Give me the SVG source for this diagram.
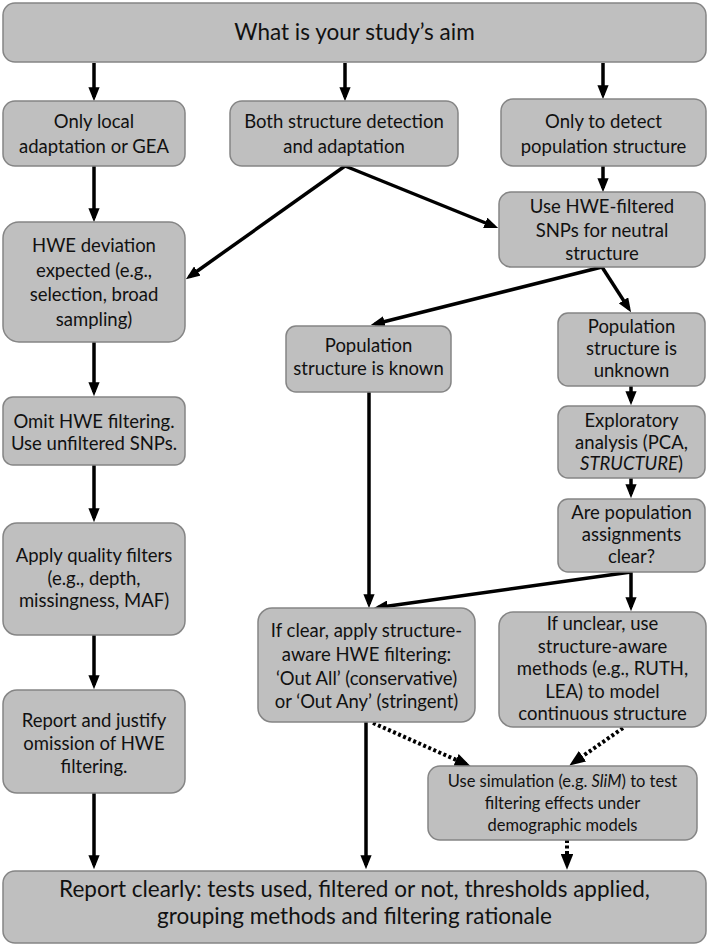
<svg xmlns="http://www.w3.org/2000/svg" width="709" height="947" viewBox="0 0 709 947">
<defs>
<style>
.box{fill:#bfbfbf;stroke:#858585;stroke-width:1.5}
.t{font-family:Lato,"Liberation Sans",sans-serif;font-size:18.5px;fill:#111;text-anchor:middle}
.big{font-size:22.5px}
.sm{font-size:16.5px}
.c{stroke:#000;stroke-width:3.5;fill:none}
.d{stroke:#000;stroke-width:4;fill:none;stroke-dasharray:3 2.5}
</style>
<marker id="ah" markerWidth="4" markerHeight="3.2" refX="2.8" refY="1.6" orient="auto" markerUnits="strokeWidth" viewBox="0 0 4 3.2">
<path d="M0,0 L4,1.6 L0,3.2 z" fill="#000"/>
</marker>
</defs>
<rect width="709" height="947" fill="#fff"/>

<g id="connectors">
<path class="c" d="M94,63 V97" marker-end="url(#ah)"/>
<path class="c" d="M345,63 V97" marker-end="url(#ah)"/>
<path class="c" d="M603,63 V95" marker-end="url(#ah)"/>
<path class="c" d="M603,166 V188" marker-end="url(#ah)"/>
<path class="c" d="M94,166 V218" marker-end="url(#ah)"/>
<path class="c" d="M345,166 L189.3,276.7" marker-end="url(#ah)"/>
<path class="c" d="M345,166 L494.3,226.5" marker-end="url(#ah)"/>
<path class="c" d="M602,267 L374.9,324" marker-end="url(#ah)"/>
<path class="c" d="M602,267 L628.8,308.6" marker-end="url(#ah)"/>
<path class="c" d="M94,342 V392" marker-end="url(#ah)"/>
<path class="c" d="M631,386 V401" marker-end="url(#ah)"/>
<path class="c" d="M631,478 V494" marker-end="url(#ah)"/>
<path class="c" d="M94,465 V518" marker-end="url(#ah)"/>
<path class="c" d="M369,392 V604" marker-end="url(#ah)"/>
<path class="c" d="M631,572 L378,607.4" marker-end="url(#ah)"/>
<path class="c" d="M631,572 V607" marker-end="url(#ah)"/>
<path class="c" d="M94,635 V685" marker-end="url(#ah)"/>
<path class="c" d="M94,793 V865" marker-end="url(#ah)"/>
<path class="c" d="M366,722 V865" marker-end="url(#ah)"/>
<path class="d" d="M373,723 L466.3,764.4" marker-end="url(#ah)"/>
<path class="d" d="M623,728 L573.3,762.7" marker-end="url(#ah)"/>
<path class="d" d="M567,840 V865" marker-end="url(#ah)"/>
</g>

<g id="n-aim"><rect class="box" x="3" y="3" width="703" height="59" rx="12"/>
<text class="t big" x="354.5" y="40">What is your study’s aim</text></g>

<g id="n-local"><rect class="box" x="3" y="101" width="182" height="65" rx="12"/>
<text class="t" x="94" y="128">Only local</text><text class="t" x="94" y="153">adaptation or GEA</text></g>

<g id="n-both"><rect class="box" x="230" y="101" width="228" height="65" rx="12"/>
<text class="t" x="344" y="128">Both structure detection</text><text class="t" x="344" y="153">and adaptation</text></g>

<g id="n-only"><rect class="box" x="501" y="99" width="205" height="67" rx="12"/>
<text class="t" x="603.5" y="128">Only to detect</text><text class="t" x="603.5" y="153">population structure</text></g>

<g id="n-usehwe"><rect class="box" x="499" y="192" width="206" height="75" rx="12"/>
<text class="t" x="602" y="213">Use HWE-filtered</text><text class="t" x="602" y="236.5">SNPs for neutral</text><text class="t" x="602" y="260">structure</text></g>

<g id="n-hwedev"><rect class="box" x="3" y="222" width="182" height="120" rx="16"/>
<text class="t" x="94" y="252">HWE deviation</text><text class="t" x="94" y="276.5">expected (e.g.,</text><text class="t" x="94" y="301">selection, broad</text><text class="t" x="94" y="325.5">sampling)</text></g>

<g id="n-known"><rect class="box" x="286" y="326" width="165" height="66" rx="10"/>
<text class="t" x="368.5" y="352">Population</text><text class="t" x="368.5" y="375">structure is known</text></g>

<g id="n-unknown"><rect class="box" x="558" y="313" width="147" height="73" rx="10"/>
<text class="t" x="631.5" y="333">Population</text><text class="t" x="631.5" y="355">structure is</text><text class="t" x="631.5" y="377">unknown</text></g>

<g id="n-omit"><rect class="box" x="3" y="397" width="182" height="68" rx="10"/>
<text class="t" x="94" y="428">Omit HWE filtering.</text><text class="t" x="94" y="450">Use unfiltered SNPs.</text></g>

<g id="n-explore"><rect class="box" x="558" y="406" width="147" height="72" rx="10"/>
<text class="t" x="631.5" y="427">Exploratory</text><text class="t" x="631.5" y="448.5">analysis (PCA,</text><text class="t" x="631.5" y="470"><tspan font-style="italic">STRUCTURE</tspan>)</text></g>

<g id="n-clear"><rect class="box" x="558" y="499" width="147" height="73" rx="10"/>
<text class="t" x="631.5" y="519">Are population</text><text class="t" x="631.5" y="541">assignments</text><text class="t" x="631.5" y="563">clear?</text></g>

<g id="n-quality"><rect class="box" x="3" y="523" width="182" height="112" rx="14"/>
<text class="t" x="94" y="562">Apply quality filters</text><text class="t" x="94" y="584.5">(e.g., depth,</text><text class="t" x="94" y="607">missingness, MAF)</text></g>

<g id="n-ifclear"><rect class="box" x="258" y="608" width="217" height="114" rx="14"/>
<text class="t" x="366.5" y="637">If clear, apply  structure-</text><text class="t" x="366.5" y="661">aware HWE filtering:</text><text class="t" x="366.5" y="685">‘Out All’ (conservative)</text><text class="t" x="366.5" y="708">or ‘Out Any’ (stringent)</text></g>

<g id="n-unclear"><rect class="box" x="499" y="612" width="207" height="115" rx="14"/>
<text class="t" x="602.5" y="630">If unclear, use</text><text class="t" x="602.5" y="652.5">structure-aware</text><text class="t" x="602.5" y="675">methods (e.g., RUTH,</text><text class="t" x="602.5" y="697.5">LEA) to model</text><text class="t" x="602.5" y="720">continuous structure</text></g>

<g id="n-report-justify"><rect class="box" x="3" y="690" width="182" height="103" rx="14"/>
<text class="t" x="94" y="727">Report and justify</text><text class="t" x="94" y="750">omission of HWE</text><text class="t" x="94" y="773">filtering.</text></g>

<g id="n-sim"><rect class="box" x="428" y="766" width="269" height="74" rx="12"/>
<text class="t sm" x="562.5" y="787">Use simulation (e.g. <tspan font-style="italic">SliM</tspan>) to test</text><text class="t sm" x="562.5" y="809">filtering effects under</text><text class="t sm" x="562.5" y="831">demographic models</text></g>

<g id="n-report"><rect class="box" x="3" y="871" width="703" height="72" rx="12"/>
<text class="t big" x="354.5" y="897">Report clearly: tests used, filtered or not, thresholds applied,</text><text class="t big" x="354.5" y="924">grouping methods and filtering rationale</text></g>
</svg>
